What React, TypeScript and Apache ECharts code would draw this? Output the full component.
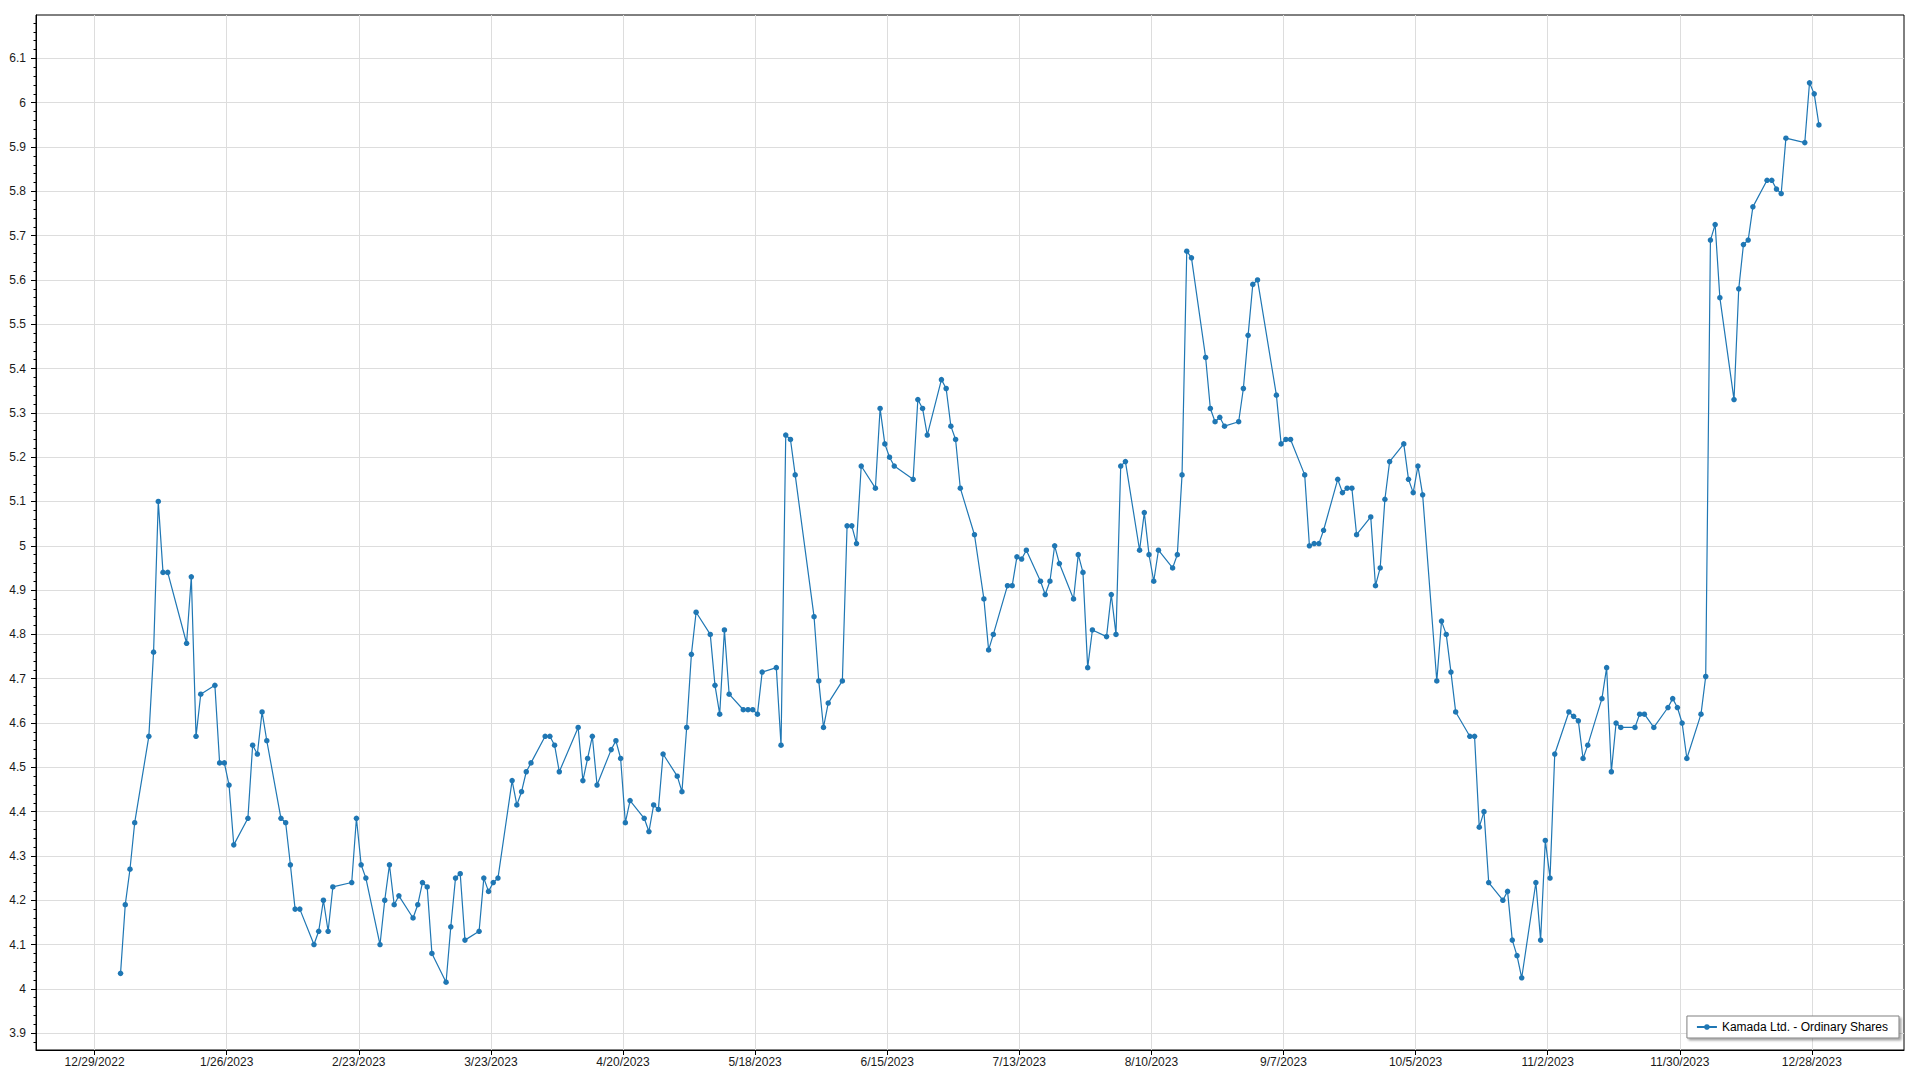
import React, { useEffect, useRef } from "react";
import * as echarts from "echarts";

const seriesName = "Kamada Ltd. - Ordinary Shares";

const dates: string[] = [
  "2023-01-03","2023-01-04","2023-01-05","2023-01-06","2023-01-09","2023-01-10","2023-01-11","2023-01-12","2023-01-13",
  "2023-01-17","2023-01-18","2023-01-19","2023-01-20","2023-01-23","2023-01-24","2023-01-25","2023-01-26","2023-01-27",
  "2023-01-30","2023-01-31","2023-02-01","2023-02-02","2023-02-03","2023-02-06","2023-02-07","2023-02-08","2023-02-09","2023-02-10",
  "2023-02-13","2023-02-14","2023-02-15","2023-02-16","2023-02-17","2023-02-21","2023-02-22","2023-02-23","2023-02-24",
  "2023-02-27","2023-02-28","2023-03-01","2023-03-02","2023-03-03","2023-03-06","2023-03-07","2023-03-08","2023-03-09","2023-03-10",
  "2023-03-13","2023-03-14","2023-03-15","2023-03-16","2023-03-17","2023-03-20","2023-03-21","2023-03-22","2023-03-23","2023-03-24",
  "2023-03-27","2023-03-28","2023-03-29","2023-03-30","2023-03-31","2023-04-03","2023-04-04","2023-04-05","2023-04-06",
  "2023-04-10","2023-04-11","2023-04-12","2023-04-13","2023-04-14","2023-04-17","2023-04-18","2023-04-19","2023-04-20","2023-04-21",
  "2023-04-24","2023-04-25","2023-04-26","2023-04-27","2023-04-28","2023-05-01","2023-05-02","2023-05-03","2023-05-04","2023-05-05",
  "2023-05-08","2023-05-09","2023-05-10","2023-05-11","2023-05-12","2023-05-15","2023-05-16","2023-05-17","2023-05-18","2023-05-19",
  "2023-05-22","2023-05-23","2023-05-24","2023-05-25","2023-05-26","2023-05-30","2023-05-31","2023-06-01","2023-06-02",
  "2023-06-05","2023-06-06","2023-06-07","2023-06-08","2023-06-09","2023-06-12","2023-06-13","2023-06-14","2023-06-15","2023-06-16",
  "2023-06-20","2023-06-21","2023-06-22","2023-06-23","2023-06-26","2023-06-27","2023-06-28","2023-06-29","2023-06-30",
  "2023-07-03","2023-07-05","2023-07-06","2023-07-07","2023-07-10","2023-07-11","2023-07-12","2023-07-13","2023-07-14",
  "2023-07-17","2023-07-18","2023-07-19","2023-07-20","2023-07-21","2023-07-24","2023-07-25","2023-07-26","2023-07-27","2023-07-28",
  "2023-07-31","2023-08-01","2023-08-02","2023-08-03","2023-08-04","2023-08-07","2023-08-08","2023-08-09","2023-08-10","2023-08-11",
  "2023-08-14","2023-08-15","2023-08-16","2023-08-17","2023-08-18","2023-08-21","2023-08-22","2023-08-23","2023-08-24","2023-08-25",
  "2023-08-28","2023-08-29","2023-08-30","2023-08-31","2023-09-01","2023-09-05","2023-09-06","2023-09-07","2023-09-08",
  "2023-09-11","2023-09-12","2023-09-13","2023-09-14","2023-09-15","2023-09-18","2023-09-19","2023-09-20","2023-09-21","2023-09-22",
  "2023-09-25","2023-09-26","2023-09-27","2023-09-28","2023-09-29","2023-10-02","2023-10-03","2023-10-04","2023-10-05","2023-10-06",
  "2023-10-09","2023-10-10","2023-10-11","2023-10-12","2023-10-13","2023-10-16","2023-10-17","2023-10-18","2023-10-19","2023-10-20",
  "2023-10-23","2023-10-24","2023-10-25","2023-10-26","2023-10-27","2023-10-30","2023-10-31","2023-11-01","2023-11-02","2023-11-03",
  "2023-11-06","2023-11-07","2023-11-08","2023-11-09","2023-11-10","2023-11-13","2023-11-14","2023-11-15","2023-11-16","2023-11-17",
  "2023-11-20","2023-11-21","2023-11-22","2023-11-24","2023-11-27","2023-11-28","2023-11-29","2023-11-30","2023-12-01",
  "2023-12-04","2023-12-05","2023-12-06","2023-12-07","2023-12-08","2023-12-11","2023-12-12","2023-12-13","2023-12-14","2023-12-15",
  "2023-12-18","2023-12-19","2023-12-20","2023-12-21","2023-12-22","2023-12-26","2023-12-27","2023-12-28","2023-12-29",
];

const prices: number[] = [
  4.035, 4.19, 4.27, 4.375, 4.57, 4.76, 5.10, 4.94, 4.94,
  4.78, 4.93, 4.57, 4.665, 4.685, 4.51, 4.51, 4.46, 4.325,
  4.385, 4.55, 4.53, 4.625, 4.56, 4.385, 4.375, 4.28, 4.18, 4.18,
  4.10, 4.13, 4.20, 4.13, 4.23, 4.24, 4.385, 4.28, 4.25,
  4.10, 4.20, 4.28, 4.19, 4.21, 4.16, 4.19, 4.24, 4.23, 4.08,
  4.015, 4.14, 4.25, 4.26, 4.11, 4.13, 4.25, 4.22, 4.24, 4.25,
  4.47, 4.415, 4.445, 4.49, 4.51, 4.57, 4.57, 4.55, 4.49,
  4.59, 4.47, 4.52, 4.57, 4.46, 4.54, 4.56, 4.52, 4.375, 4.425,
  4.385, 4.355, 4.415, 4.405, 4.53, 4.48, 4.445, 4.59, 4.755, 4.85,
  4.80, 4.685, 4.62, 4.81, 4.665, 4.63, 4.63, 4.63, 4.62, 4.715,
  4.725, 4.55, 5.25, 5.24, 5.16, 4.84, 4.695, 4.59, 4.645,
  4.695, 5.045, 5.045, 5.005, 5.18, 5.13, 5.31, 5.23, 5.20, 5.18,
  5.15, 5.33, 5.31, 5.25, 5.375, 5.355, 5.27, 5.24, 5.13,
  5.025, 4.88, 4.765, 4.80, 4.91, 4.91, 4.975, 4.97, 4.99,
  4.92, 4.89, 4.92, 5.00, 4.96, 4.88, 4.98, 4.94, 4.725, 4.81,
  4.795, 4.89, 4.80, 5.18, 5.19, 4.99, 5.075, 4.98, 4.92, 4.99,
  4.95, 4.98, 5.16, 5.665, 5.65, 5.425, 5.31, 5.28, 5.29, 5.27,
  5.28, 5.355, 5.475, 5.59, 5.60, 5.34, 5.23, 5.24, 5.24,
  5.16, 5.00, 5.005, 5.005, 5.035, 5.15, 5.12, 5.13, 5.13, 5.025,
  5.065, 4.91, 4.95, 5.105, 5.19, 5.23, 5.15, 5.12, 5.18, 5.115,
  4.695, 4.83, 4.80, 4.715, 4.625, 4.57, 4.57, 4.365, 4.40, 4.24,
  4.20, 4.22, 4.11, 4.075, 4.025, 4.24, 4.11, 4.335, 4.25, 4.53,
  4.625, 4.615, 4.605, 4.52, 4.55, 4.655, 4.725, 4.49, 4.60, 4.59,
  4.59, 4.62, 4.62, 4.59, 4.635, 4.655, 4.635, 4.60, 4.52,
  4.62, 4.705, 5.69, 5.725, 5.56, 5.33, 5.58, 5.68, 5.69, 5.765,
  5.825, 5.825, 5.805, 5.795, 5.92, 5.91, 6.045, 6.02, 5.95,
];

// x-axis tick dates (every 28 days)
const xTickDates: string[] = [
  "2022-12-29","2023-01-26","2023-02-23","2023-03-23","2023-04-20","2023-05-18","2023-06-15",
  "2023-07-13","2023-08-10","2023-09-07","2023-10-05","2023-11-02","2023-11-30","2023-12-28",
];

const yTicks: number[] = [
  3.9, 4.0, 4.1, 4.2, 4.3, 4.4, 4.5, 4.6, 4.7, 4.8, 4.9, 5.0,
  5.1, 5.2, 5.3, 5.4, 5.5, 5.6, 5.7, 5.8, 5.9, 6.0, 6.1,
];

const DAY = 86400000;
const toTs = (s: string, hour = 0) => {
  const [y, m, d] = s.split("-").map(Number);
  return Date.UTC(y, m - 1, d, hour);
};

export default function App() {
  const ref = useRef<HTMLDivElement>(null);

  useEffect(() => {
    if (!ref.current) return;
    const chart = echarts.init(ref.current, null, { renderer: "svg" });

    const base = toTs(xTickDates[0]);
    const xMin = base - 12.42 * DAY;
    const xMax = base + 383.53 * DAY;
    const xTicks = xTickDates.map((s) => toTs(s));
    const minorTicks: number[] = [];
    for (let i = 194; i <= 309; i++) minorTicks.push(Math.round(i * 2) / 100);

    const fontFamily = "'Liberation Sans', Arial, sans-serif";
    const fmtDate = (v: number) => {
      const d = new Date(v);
      return `${d.getUTCMonth() + 1}/${d.getUTCDate()}/${d.getUTCFullYear()}`;
    };

    chart.setOption({
      animation: false,
      backgroundColor: "#ffffff",
      grid: {
        left: 36,
        right: 16,
        top: 15,
        bottom: 30,
        show: true,
        borderColor: "#000",
        borderWidth: 1,
        containLabel: false,
      },
      legend: {
        data: [seriesName],
        right: 21,
        bottom: 42,
        itemWidth: 20,
        itemHeight: 7,
        itemGap: 5,
        padding: [5, 11, 5, 9],
        backgroundColor: "#ffffff",
        borderColor: "#808080",
        borderWidth: 1,
        shadowColor: "rgba(0,0,0,0.35)",
        shadowBlur: 2,
        shadowOffsetX: 2,
        shadowOffsetY: 2,
        textStyle: { fontFamily, fontSize: 12, color: "#000" },
      },
      xAxis: {
        type: "value",
        min: xMin,
        max: xMax,
        axisLine: { show: true, lineStyle: { color: "#000", width: 1 } },
        axisTick: { show: true, length: 5, customValues: xTicks, lineStyle: { color: "#000" } },
        axisLabel: {
          customValues: xTicks,
          formatter: (v: number) => fmtDate(v),
          fontFamily,
          fontSize: 12,
          color: "#1a1a1a",
          margin: 6,
        },
        splitLine: { show: true, lineStyle: { color: "#dddddd", width: 1 } },
      },
      yAxis: [
        {
          type: "value",
          min: 3.862,
          max: 6.198,
          position: "left",
          axisLine: { show: true, lineStyle: { color: "#000", width: 1 } },
          axisTick: { show: true, length: 5, customValues: yTicks, lineStyle: { color: "#000" } },
          axisLabel: {
            customValues: yTicks,
            formatter: (v: number) => String(parseFloat(Number(v).toFixed(1))),
            fontFamily,
            fontSize: 12,
            color: "#1a1a1a",
            margin: 10,
          },
          splitLine: { show: true, lineStyle: { color: "#dddddd", width: 1 } },
        },
        {
          type: "value",
          min: 3.862,
          max: 6.198,
          position: "left",
          axisLine: { show: false },
          axisTick: { show: true, length: 2.5, customValues: minorTicks, lineStyle: { color: "#000" } },
          axisLabel: { show: false },
          splitLine: { show: false },
        },
      ],
      series: [
        {
          name: seriesName,
          type: "line",
          yAxisIndex: 0,
          data: dates.map((d, i) => [toTs(d, 12), prices[i]]),
          symbol: "circle",
          symbolSize: 5.5,
          showSymbol: true,
          color: "#1f77b4",
          lineStyle: { color: "#1f77b4", width: 1.2 },
          itemStyle: { color: "#1f77b4" },
        },
      ],
    });

    return () => chart.dispose();
  }, []);

  return (
    <div
      ref={ref}
      style={{ position: "fixed", left: 0, top: 0, width: "1920px", height: "1080px", background: "#fff" }}
    />
  );
}
